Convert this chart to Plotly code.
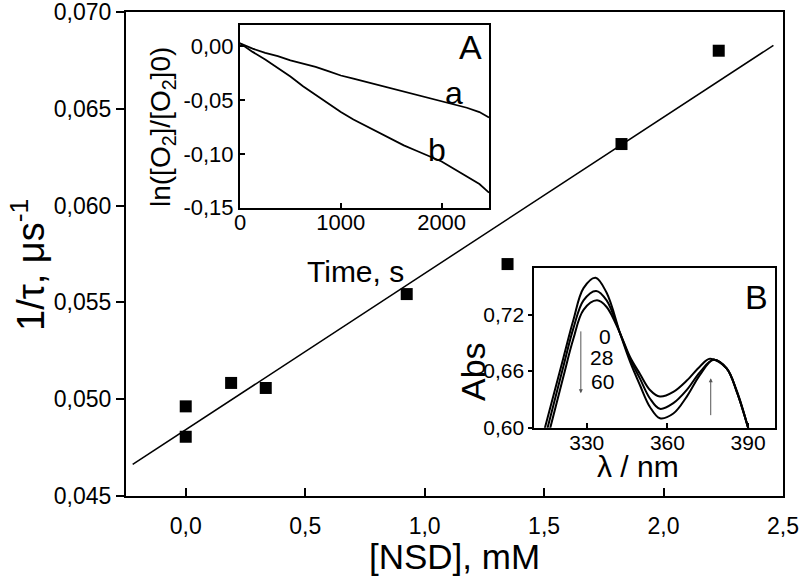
import numpy as np
import plotly.graph_objects as go

# ---------------- data ----------------
# main plot: 1/tau vs [NSD]
nsd_mM = [0.0, 0.0, 0.19, 0.335, 0.925, 1.347, 1.824, 2.231]
inv_tau = [0.04963, 0.04806, 0.05084, 0.05058, 0.05543, 0.05698, 0.06318, 0.06800]
fit_x_span = [-0.222, 2.46]
main_x_ticks = [0.0, 0.5, 1.0, 1.5, 2.0, 2.5]
main_x_labels = ["0,0", "0,5", "1,0", "1,5", "2,0", "2,5"]
main_y_ticks = [0.045, 0.050, 0.055, 0.060, 0.065, 0.070]
main_y_labels = ["0,045", "0,050", "0,055", "0,060", "0,065", "0,070"]

# inset A: ln([O2]/[O2]0) vs time
time_s = [0, 125, 250, 375, 500, 625, 750, 875, 1000, 1125, 1250, 1375, 1500,
          1625, 1750, 1875, 2000, 2125, 2250, 2375, 2470]
ln_a = [0.003, -0.002, -0.006, -0.009, -0.013, -0.016, -0.019, -0.023, -0.027,
        -0.030, -0.033, -0.036, -0.039, -0.042, -0.045, -0.048, -0.051, -0.054,
        -0.057, -0.061, -0.066]
ln_b = [0.003, -0.005, -0.012, -0.020, -0.028, -0.037, -0.045, -0.053, -0.061,
        -0.068, -0.074, -0.080, -0.086, -0.092, -0.097, -0.102, -0.107, -0.114,
        -0.121, -0.128, -0.136]
insA_x_ticks = [0, 1000, 2000]
insA_x_labels = ["0", "1000", "2000"]
insA_y_ticks = [0.0, -0.05, -0.10, -0.15]
insA_y_labels = ["0,00", "-0,05", "-0,10", "-0,15"]

# inset B: absorption spectra at 0, 28, 60
wl_0 = [314.0, 321.3, 325.0, 328.8, 333.3, 337.4, 342.4, 346.1, 349.8, 353.5, 357.2,
        362.2, 367.2, 372.1, 377.1, 382.0, 385.8, 390.3]
abs_0 = [0.595, 0.674, 0.714, 0.748, 0.759, 0.743, 0.700, 0.670, 0.645, 0.622, 0.610,
         0.615, 0.633, 0.656, 0.672, 0.663, 0.638, 0.597]
wl_28 = [315.0, 321.3, 325.0, 328.8, 333.5, 337.4, 342.4, 346.1, 349.8, 353.5, 357.2,
         362.2, 367.2, 372.1, 377.1, 382.0, 385.8, 390.3]
abs_28 = [0.595, 0.665, 0.705, 0.735, 0.745, 0.735, 0.700, 0.673, 0.652, 0.631, 0.620,
          0.626, 0.640, 0.659, 0.672, 0.663, 0.639, 0.597]
wl_60 = [316.0, 321.3, 325.0, 328.8, 333.8, 337.4, 342.4, 346.1, 349.8, 353.5, 357.2,
         362.2, 367.2, 372.1, 375.8, 382.0, 385.8, 390.3]
abs_60 = [0.595, 0.654, 0.694, 0.725, 0.735, 0.728, 0.700, 0.675, 0.657, 0.640, 0.633,
          0.638, 0.650, 0.665, 0.673, 0.663, 0.638, 0.597]
insB_x_ticks = [330, 360, 390]
insB_x_labels = ["330", "360", "390"]
insB_y_ticks = [0.60, 0.66, 0.72]
insB_y_labels = ["0,60", "0,66", "0,72"]
time_labels = ["0", "28", "60"]

# ---------------- figure ----------------
W, H = 800, 584
ML, MR, MT, MB = 126, 17, 12, 88
PW, PH = W - ML - MR, H - MT - MB


def px(x):
    return (x - ML) / PW


def py(y):
    return (H - MB - y) / PH


FONT = "Liberation Sans, Arial, sans-serif"

fig = go.Figure()

# main: fit line and points
k, b0 = np.polyfit(nsd_mM, inv_tau, 1)
fx = np.array(fit_x_span)
fig.add_trace(go.Scatter(x=fx, y=k * fx + b0, mode="lines",
                         line=dict(color="black", width=1.5),
                         xaxis="x", yaxis="y", showlegend=False))
fig.add_trace(go.Scatter(x=nsd_mM, y=inv_tau, mode="markers",
                         marker=dict(symbol="square", size=12, color="black"),
                         xaxis="x", yaxis="y", showlegend=False))

# inset A
for yy in (ln_a, ln_b):
    fig.add_trace(go.Scatter(x=time_s, y=yy, mode="lines",
                             line=dict(color="black", width=1.8),
                             xaxis="x2", yaxis="y2", showlegend=False))

# inset B
for xx, yy in ((wl_0, abs_0), (wl_28, abs_28), (wl_60, abs_60)):
    fig.add_trace(go.Scatter(x=xx, y=yy, mode="lines",
                             line=dict(color="black", width=2, shape="spline", smoothing=1.0),
                             xaxis="x3", yaxis="y3", showlegend=False))

axis_common = dict(showline=True, linecolor="black", linewidth=2, mirror=True,
                   showgrid=False, zeroline=False, tickcolor="black", tickwidth=1.5,
                   tickmode="array", automargin=False, ticklabeloverflow="allow")

fig.update_layout(
    template="none",
    width=W, height=H,
    margin=dict(l=ML, r=MR, t=MT, b=MB, autoexpand=False),
    paper_bgcolor="white", plot_bgcolor="white",
    font=dict(family=FONT, color="black"),
    xaxis=dict(axis_common, range=[-0.25, 2.5], tickvals=main_x_ticks, ticktext=main_x_labels,
               ticks="inside", ticklen=8, tickfont=dict(size=23), ticklabelstandoff=8,
               domain=[0, 1], anchor="y"),
    yaxis=dict(axis_common, range=[0.045, 0.070], tickvals=main_y_ticks, ticktext=main_y_labels,
               ticks="outside", ticklen=8, tickfont=dict(size=23),
               domain=[0, 1], anchor="x"),
    xaxis2=dict(axis_common, range=[0, 2470], tickvals=insA_x_ticks, ticktext=insA_x_labels,
                ticks="inside", ticklen=5, tickfont=dict(size=22), ticklabelstandoff=-6,
                domain=[px(240), px(489)], anchor="y2"),
    yaxis2=dict(axis_common, range=[-0.15, 0.02], tickvals=insA_y_ticks, ticktext=insA_y_labels,
                ticks="inside", ticklen=5, tickfont=dict(size=22),
                domain=[py(207.7), py(25)], anchor="x2"),
    xaxis3=dict(axis_common, range=[310.5, 400], tickvals=insB_x_ticks, ticktext=insB_x_labels,
                ticks="inside", ticklen=5, tickfont=dict(size=21), ticklabelstandoff=-5,
                domain=[px(534.3), px(775)], anchor="y3"),
    yaxis3=dict(axis_common, range=[0.60, 0.769], tickvals=insB_y_ticks, ticktext=insB_y_labels,
                ticks="outside", ticklen=4, tickfont=dict(size=21),
                domain=[py(427.7), py(268.3)], anchor="x3"),
)


def label(text, x, y, size, angle=0):
    fig.add_annotation(text=text, x=px(x), y=py(y), xref="paper", yref="paper",
                       showarrow=False, font=dict(size=size, family=FONT, color="black"),
                       textangle=angle, xanchor="center", yanchor="middle")


label("[NSD], mM", 454, 556, 35)
label("1/τ, μs<sup>-1</sup>", 28, 265, 38, -90)
label("ln([O<sub>2</sub>]/[O<sub>2</sub>]0)", 162, 127, 28, -90)
label("Time, s", 355, 271, 30)
label("A", 470, 47, 34)
label("a", 454, 93, 32)
label("b", 437, 150, 32)
label("B", 756, 297, 34)
label("Abs", 473, 372, 34, -90)
label("λ / nm", 638, 466, 30)

# time labels in inset B
for txt, (lx, ly) in zip(time_labels, [(336.8, 0.697), (335.6, 0.674), (336.0, 0.649)]):
    fig.add_annotation(text=txt, x=lx, y=ly, xref="x3", yref="y3", showarrow=False,
                       font=dict(size=21, family=FONT, color="black"))

# arrows in inset B
fig.add_annotation(x=327.8, y=0.6365, ax=327.8, ay=0.7037, xref="x3", yref="y3",
                   axref="x3", ayref="y3", text="", showarrow=True, arrowhead=2,
                   arrowsize=0.8, arrowwidth=1, arrowcolor="#555555")
fig.add_annotation(x=376.1, y=0.6525, ax=376.1, ay=0.6117, xref="x3", yref="y3",
                   axref="x3", ayref="y3", text="", showarrow=True, arrowhead=2,
                   arrowsize=0.8, arrowwidth=1, arrowcolor="#555555")

fig.write_html("out.html", config={"displayModeBar": False},
               post_script="document.body.style.margin='0px';")
